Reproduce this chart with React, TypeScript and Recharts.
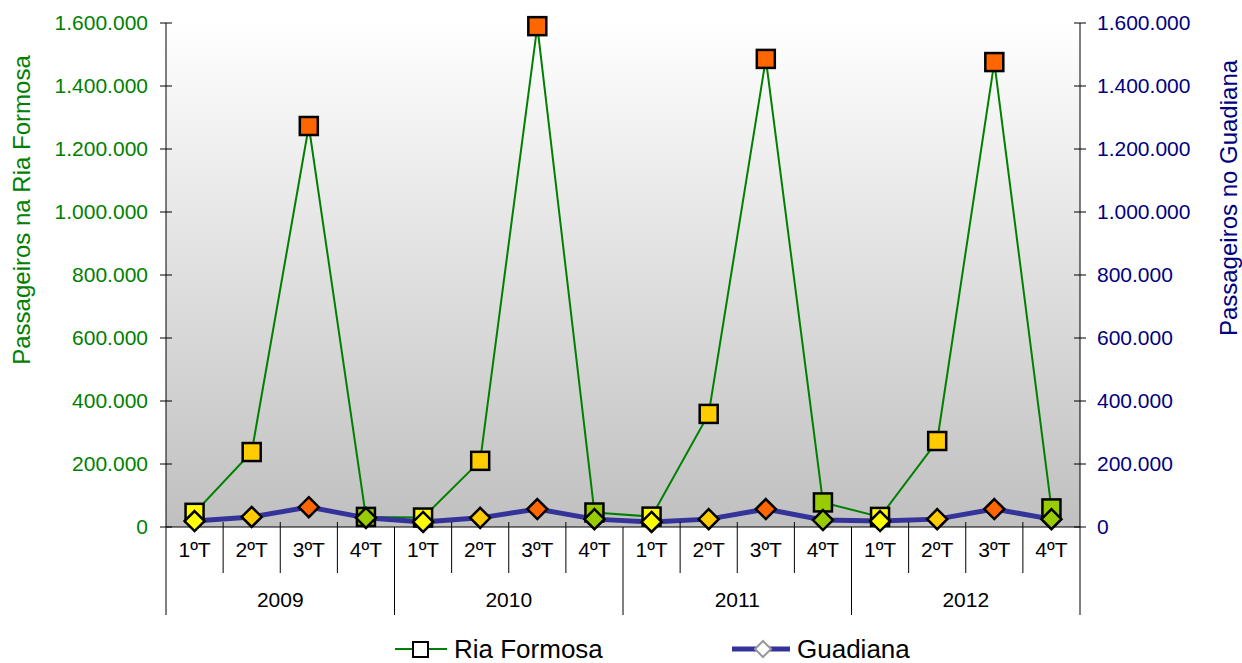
import { ComposedChart, Line, XAxis, YAxis, CartesianGrid } from 'recharts';

// Passageiros por trimestre (2009-2012)
const years = ['2009', '2010', '2011', '2012'];
const quarters = ['1ºT', '2ºT', '3ºT', '4ºT'];
const riaFormosa = [
  45000, 238000, 1273000, 32000,
  30000, 210000, 1590000, 46000,
  33000, 359000, 1486000, 78000,
  32000, 273000, 1476000, 59000,
];
const guadiana = [
  19000, 32000, 63000, 29000,
  16000, 29000, 57000, 25000,
  16000, 25000, 57000, 22000,
  19000, 25000, 57000, 25000,
];
const axisTicks = [0, 200000, 400000, 600000, 800000, 1000000, 1200000, 1400000, 1600000];
const quarterColors = ['#FFFF00', '#FFCC00', '#FF6600', '#99CC00'];

const FONT = 'Arial, "Liberation Sans", sans-serif';
const GREEN = '#008000';
const NAVY = '#000080';

const data = riaFormosa.map((v, i) => ({
  key: `${years[Math.floor(i / 4)]}-${quarters[i % 4]}`,
  quarter: quarters[i % 4],
  year: years[Math.floor(i / 4)],
  ria: v,
  guadiana: guadiana[i],
}));

const fmt = (v: number) => String(v).replace(/\B(?=(\d{3})+(?!\d))/g, '.');

function SquareDot(props: any) {
  const { cx, cy, index } = props;
  if (cx == null || cy == null) return null;
  const s = 18;
  return (
    <rect
      key={`sq-${index}`}
      x={cx - s / 2}
      y={cy - s / 2}
      width={s}
      height={s}
      fill={quarterColors[index % 4]}
      stroke="#000"
      strokeWidth={2.5}
    />
  );
}

function DiamondDot(props: any) {
  const { cx, cy, index } = props;
  if (cx == null || cy == null) return null;
  const r = 10;
  return (
    <polygon
      key={`dm-${index}`}
      points={`${cx},${cy - r} ${cx + r},${cy} ${cx},${cy + r} ${cx - r},${cy}`}
      fill={quarterColors[index % 4]}
      stroke="#000"
      strokeWidth={2.5}
      strokeLinejoin="miter"
    />
  );
}

function LeftTick(props: any) {
  const { x, y, payload } = props;
  return (
    <g>
      <line x1={x + 12} x2={x + 24} y1={y} y2={y} stroke="#000" />
      <text x={x} y={y} dy="0.355em" textAnchor="end" fill={GREEN} fontSize={21} fontFamily={FONT}>
        {fmt(payload.value)}
      </text>
    </g>
  );
}

function RightTick(props: any) {
  const { x, y, payload } = props;
  return (
    <g>
      <line x1={x - 23} x2={x - 11} y1={y} y2={y} stroke="#000" />
      <text x={x} y={y} dy="0.355em" textAnchor="start" fill={NAVY} fontSize={21} fontFamily={FONT}>
        {fmt(payload.value)}
      </text>
    </g>
  );
}

function QuarterTick(props: any) {
  const { x, y, payload, index } = props;
  const half = payload.offset || 0;
  const i = payload.index ?? index;
  return (
    <g>
      {i % 4 !== 0 && <line x1={x - half} x2={x - half} y1={y - 5} y2={y + 46} stroke="#000" />}
      <text x={x} y={y + 30} textAnchor="middle" fill="#000" fontSize={21} fontFamily={FONT}>
        {data[i] ? data[i].quarter : ''}
      </text>
    </g>
  );
}

function YearTick(props: any) {
  const { x, y, payload } = props;
  const half = payload.offset || 0;
  const isLast = payload.value === years[years.length - 1];
  return (
    <g>
      <line x1={x - half} x2={x - half} y1={y - 48} y2={y + 40} stroke="#000" />
      {isLast && <line x1={x + half} x2={x + half} y1={y - 48} y2={y + 40} stroke="#000" />}
      <text x={x} y={y + 32} textAnchor="middle" fill="#000" fontSize={21} fontFamily={FONT}>
        {payload.value}
      </text>
    </g>
  );
}

const titleStyle = (left: number, top: number, color: string): React.CSSProperties => ({
  position: 'absolute',
  left,
  top,
  transform: 'translate(-50%, -50%) rotate(-90deg)',
  whiteSpace: 'nowrap',
  fontFamily: FONT,
  fontSize: 24,
  color,
  lineHeight: 1,
});

export default function App() {
  return (
    <div style={{ position: 'absolute', left: 0, top: 0, width: 1242, height: 663, background: '#fff' }}>
      <ComposedChart
        width={1242}
        height={663}
        data={data}
        margin={{ top: 23, right: 0, bottom: 48, left: 0 }}
      >
        <defs>
          <linearGradient id="plotBg" x1="0" y1="0" x2="0" y2="1">
            <stop offset="0%" stopColor="#FFFFFF" />
            <stop offset="100%" stopColor="#C0C0C0" />
          </linearGradient>
        </defs>
        <CartesianGrid
          xAxisId="q"
          yAxisId="left"
          horizontal={false}
          vertical={false}
          fill="url(#plotBg)"
        />
        <XAxis
          xAxisId="q"
          dataKey="key"
          scale="band"
          interval={0}
          height={48}
          tickSize={0}
          tickMargin={0}
          tickLine={false}
          axisLine={{ stroke: '#000' }}
          tick={<QuarterTick />}
        />
        <XAxis
          xAxisId="year"
          dataKey="year"
          scale="band"
          allowDuplicatedCategory={false}
          ticks={years}
          interval={0}
          height={40}
          tickSize={0}
          tickMargin={0}
          tickLine={false}
          axisLine={false}
          tick={<YearTick />}
        />
        <YAxis
          yAxisId="left"
          orientation="left"
          width={166}
          domain={[0, 1600000]}
          ticks={axisTicks}
          interval={0}
          tickSize={0}
          tickMargin={18}
          tickLine={false}
          axisLine={{ stroke: '#000' }}
          tick={<LeftTick />}
        />
        <YAxis
          yAxisId="right"
          orientation="right"
          width={162}
          domain={[0, 1600000]}
          ticks={axisTicks}
          interval={0}
          tickSize={0}
          tickMargin={17}
          tickLine={false}
          axisLine={{ stroke: '#000' }}
          tick={<RightTick />}
        />
        <Line
          xAxisId="q"
          yAxisId="left"
          dataKey="ria"
          name="Ria Formosa"
          type="linear"
          stroke={GREEN}
          strokeWidth={2}
          dot={<SquareDot />}
          activeDot={false}
          isAnimationActive={false}
        />
        <Line
          xAxisId="q"
          yAxisId="right"
          dataKey="guadiana"
          name="Guadiana"
          type="linear"
          stroke="#333399"
          strokeWidth={5}
          dot={<DiamondDot />}
          activeDot={false}
          isAnimationActive={false}
        />
      </ComposedChart>

      <div style={titleStyle(22, 210, GREEN)}>Passageiros na Ria Formosa</div>
      <div style={titleStyle(1229, 198, NAVY)}>Passageiros no Guadiana</div>

      <div
        style={{
          position: 'absolute',
          left: 0,
          top: 635,
          width: 1242,
          height: 28,
          fontFamily: FONT,
          fontSize: 26,
          color: '#000',
        }}
      >
        <div style={{ position: 'absolute', left: 395, top: 0, display: 'flex', alignItems: 'center', height: 28 }}>
          <svg width={52} height={20}>
            <line x1={0} x2={52} y1={10} y2={10} stroke={GREEN} strokeWidth={2} />
            <rect x={18} y={3} width={15} height={15} fill="#fff" stroke="#000" strokeWidth={2} />
          </svg>
          <span style={{ marginLeft: 7, lineHeight: 1 }}>Ria Formosa</span>
        </div>
        <div style={{ position: 'absolute', left: 732, top: 0, display: 'flex', alignItems: 'center', height: 28 }}>
          <svg width={58} height={20}>
            <line x1={0} x2={58} y1={10} y2={10} stroke="#333399" strokeWidth={5} />
            <polygon points="31,2 39,10 31,18 23,10" fill="#fff" stroke="#999" strokeWidth={2} />
          </svg>
          <span style={{ marginLeft: 7, lineHeight: 1 }}>Guadiana</span>
        </div>
      </div>
    </div>
  );
}
